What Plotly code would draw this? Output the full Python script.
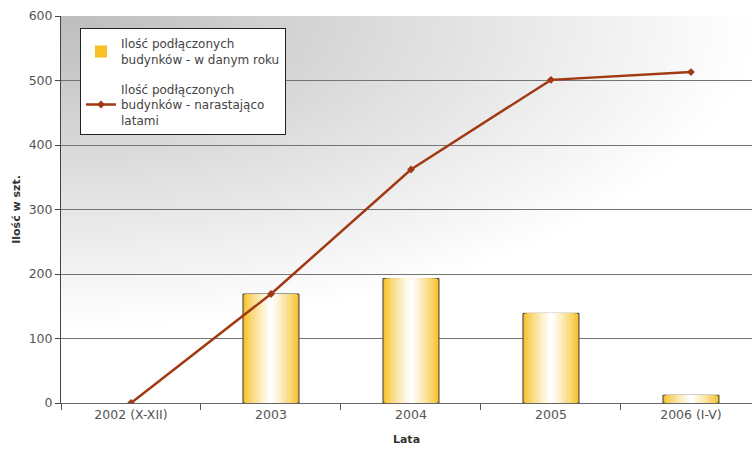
import base64, struct, zlib
import numpy as np
import plotly.graph_objects as go

categories = ["2002 (X-XII)", "2003", "2004", "2005", "2006 (I-V)"]
per_year = [0, 169, 193, 139, 12]
cumulative = [0, 169, 362, 501, 513]
y_ticks = [0, 100, 200, 300, 400, 500, 600]

bar_name = "Ilość podłączonych<br>budynków - w danym roku"
line_name = "Ilość podłączonych<br>budynków - narastająco<br>latami"


def png_uri(arr):
    h, w, _ = arr.shape
    raw = b"".join(b"\x00" + arr[r].tobytes() for r in range(h))

    def chunk(t, d):
        c = struct.pack(">I", len(d)) + t + d
        return c + struct.pack(">I", zlib.crc32(t + d) & 0xFFFFFFFF)

    data = b"\x89PNG\r\n\x1a\n" + chunk(b"IHDR", struct.pack(">IIBBBBB", w, h, 8, 2, 0, 0, 0))
    data += chunk(b"IDAT", zlib.compress(raw, 9)) + chunk(b"IEND", b"")
    return "data:image/png;base64," + base64.b64encode(data).decode()


# background gradient (grey top-left -> white bottom/right)
H, W = 120, 200
v, u = np.mgrid[0:H, 0:W]
u = u / (W - 1)
v = v / (H - 1)
d = np.clip(np.sqrt((u / 1.0) ** 2 + (v / 0.8) ** 2), 0, 1)
g = 190 + 65 * d
bg = np.clip(np.stack([g, g, g], axis=-1), 0, 255).astype(np.uint8)

fig = go.Figure()

# gradient bars: concentric overlay layers
N = 14
yellow = np.array([246, 192, 38])
white = np.array([255, 255, 255])
edge_w = [0 if val == 0 else 1 for val in per_year]
for i in range(N):
    t = (i / (N - 1)) ** 0.8
    c = yellow + (white - yellow) * t
    col = "rgb(%d,%d,%d)" % tuple(c.round().astype(int))
    w = 0.4 * (1 - i / N)
    fig.add_trace(go.Bar(
        x=categories, y=per_year, width=w,
        marker=dict(color=col,
                    line=dict(color="#3a3a3a" if i == 0 else col,
                              width=edge_w if i == 0 else 0)),
        name=bar_name, showlegend=(i == 0), hoverinfo="skip" if i else None,
        legendgroup="bars",
    ))

fig.add_trace(go.Scatter(
    x=categories, y=cumulative, mode="lines+markers", name=line_name,
    line=dict(color="#A13A12", width=2.5),
    marker=dict(symbol="diamond", size=6, color="#A13A12"),
    legendgroup="line",
))

fig.add_layout_image(dict(
    source=png_uri(bg), xref="paper", yref="paper", x=0, y=1, sizex=1, sizey=1,
    sizing="stretch", layer="below", xanchor="left", yanchor="top",
))

font_main = "DejaVu Sans"
fig.update_layout(
    width=752, height=452,
    margin=dict(l=61, r=0, t=16, b=49),
    paper_bgcolor="white", plot_bgcolor="white",
    barmode="overlay",
    font=dict(family=font_main, color="#555555", size=12),
    legend=dict(
        x=0.0275, y=0.968, xanchor="left", yanchor="top",
        bgcolor="white", bordercolor="#222222", borderwidth=1,
        font=dict(family=font_main, size=12, color="#444444"),
        tracegroupgap=11, itemwidth=30,
    ),
    xaxis=dict(
        range=[-0.5, 4.436], type="category", automargin=False,
        showgrid=False, ticks="outside", tickson="boundaries", ticklen=6,
        tickcolor="#555555", showline=True, linecolor="#666666", linewidth=1,
        title=dict(text="<b>Lata</b>", font=dict(size=11, color="#333333"), standoff=14),
        tickfont=dict(size=12.5, color="#555555"),
    ),
    yaxis=dict(
        range=[0, 600], tickvals=y_ticks, automargin=False,
        showgrid=True, gridcolor="#747474", gridwidth=1,
        ticks="outside", ticklen=5, tickcolor="#444444",
        showline=True, linecolor="#444444", linewidth=1, zeroline=False,
        title=dict(text="<b>Ilość w szt.</b>", font=dict(size=11, color="#333333"), standoff=5),
        tickfont=dict(size=12.5, color="#555555"),
    ),
)

fig.write_html("out.html", config={"displayModeBar": False},
               post_script="document.body.style.margin='0px';")
